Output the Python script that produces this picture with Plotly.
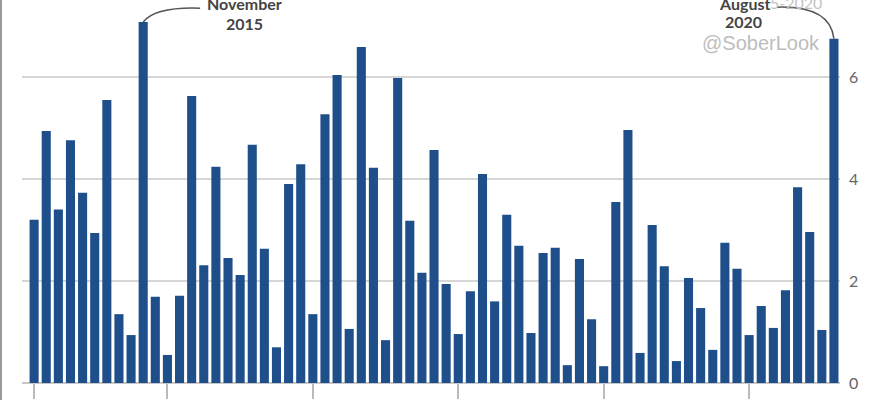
import plotly.graph_objects as go

# Monthly values, Feb 2015 .. Aug 2020
months = [f"{y}-{m:02d}" for y in range(2015, 2021) for m in range(1, 13)]
months = months[1:months.index("2020-08") + 1]
values = [3.2, 4.94, 3.4, 4.76, 3.73, 2.94, 5.55, 1.35, 0.94, 7.08, 1.69,
          0.55, 1.71, 5.63, 2.31, 4.24, 2.45, 2.12, 4.67, 2.63, 0.7, 3.9,
          4.29, 1.35, 5.27, 6.04, 1.06, 6.59, 4.22, 0.84, 5.98, 3.18, 2.16,
          4.57, 1.94, 0.96, 1.8, 4.1, 1.6, 3.3, 2.69, 0.98, 2.55, 2.65,
          0.35, 2.43, 1.25, 0.33, 3.55, 4.96, 0.59, 3.1, 2.29, 0.43, 2.06,
          1.47, 0.65, 2.75, 2.24, 0.94, 1.51, 1.08, 1.82, 3.84, 2.96, 1.04,
          6.75]
y_ticks = [0, 2, 4, 6]
x_tick_months = ["2015-02", "2016-01", "2017-01", "2018-01", "2019-01", "2020-01"]

idx = list(range(len(months)))
nov = months.index("2015-11")
aug = months.index("2020-08")

BAR = "#1f4f8b"
fig = go.Figure(go.Bar(x=idx, y=values, marker_color=BAR, marker_line_width=0,
                       customdata=months, hovertemplate="%{customdata}: %{y}<extra></extra>"))

fig.update_layout(
    width=870, height=400,
    margin=dict(l=22, r=30, t=0, b=17),
    paper_bgcolor="white", plot_bgcolor="white",
    bargap=0.25, showlegend=False,
    font=dict(family="Lato", color="#555"),
)
fig.update_xaxes(range=[-1, len(months) - 0.5], tickvals=[months.index(m) for m in x_tick_months],
                 showticklabels=False, ticks="outside", ticklen=15, tickcolor="#bbb", tickwidth=1.5,
                 showgrid=False, zeroline=False, showline=False)
fig.update_yaxes(range=[0, 7.51], side="right", tickvals=y_ticks, showgrid=True,
                 gridcolor="#d6d6d6", gridwidth=2, zeroline=True, zerolinecolor="#c8c8c8",
                 zerolinewidth=2, tickfont=dict(size=16, color="#666"), ticks="",
                 ticklabelstandoff=8, showline=False)

# left frame line
fig.add_shape(type="line", xref="paper", yref="paper", x0=-0.0257, x1=-0.0257, y0=-0.05, y1=1.0,
              line=dict(color="#999", width=2))

# connectors
xn, yn = nov, values[nov]
fig.add_shape(type="path", xref="x", yref="y", layer="above",
              path=f"M {xn},{yn} Q {xn + 1.0},{7.38} {xn + 4.7},{7.35}",
              line=dict(color="#555", width=1.5))
xa, ya = aug, values[aug]
fig.add_shape(type="path", xref="x", yref="y", layer="above",
              path=f"M {xa - 4.7},{7.37} Q {xa - 0.3},{7.40} {xa},{ya}",
              line=dict(color="#555", width=1.5))

def note(text, x, y, size=16, color="#444", family="Lato"):
    fig.add_annotation(text=text, x=x, y=y, xref="x", yref="y", showarrow=False,
                       font=dict(size=size, color=color, family=family),
                       xanchor="center", yanchor="middle")

note("5-2020", aug - 3.1, 7.47, color="#c4c4c4")
note("<b>November</b>", nov + 8.4, 7.44)
note("<b>2015</b>", nov + 8.4, 7.04)
note("<b>August</b>", aug - 7.4, 7.45)
note("<b>2020</b>", aug - 7.5, 7.09)
note("@SoberLook", aug - 6.0, 6.66, size=20, color="#bdbdbd", family="Liberation Sans")

fig.write_html("out.html", config={"displayModeBar": False},
               post_script="document.body.style.margin='0';")
